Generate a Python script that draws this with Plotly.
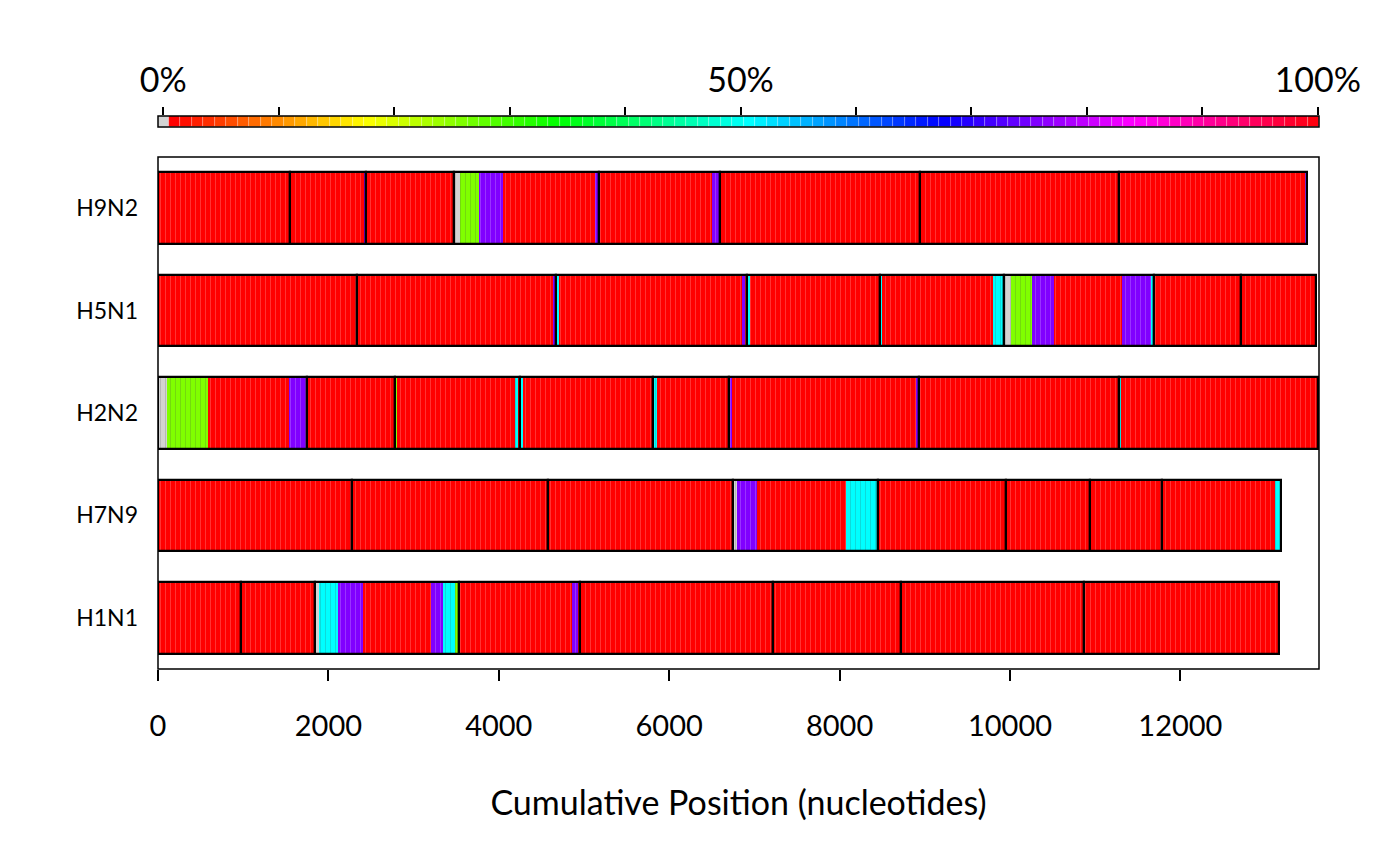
import colorsys
import plotly.graph_objects as go

# ---------------- data ----------------
strains = ["H1N1", "H7N9", "H2N2", "H5N1", "H9N2"]  # bottom -> top

# cumulative segment end positions (nucleotides)
seg_ends_H9N2 = [1548, 2447, 3475, 5181, 6595, 8943, 11278, 13490]
seg_ends_H5N1 = [2334, 4673, 6918, 8478, 9935, 11687, 12716, 13587]
seg_ends_H2N2 = [1748, 2780, 4246, 5813, 6703, 8934, 11280, 13613]
seg_ends_H7N9 = [2276, 4575, 6745, 8450, 9959, 10940, 11782, 13180]
seg_ends_H1N1 = [970, 1845, 3533, 4948, 7224, 8718, 10873, 13156]

# baseline percent for all windows not listed below
base_pct = 100

# windows that differ from baseline: (start, end, percent); None = no data
blocks_H9N2 = [(1548, 1562, 75), (2428, 2447, 75), (3484, 3542, None), (3542, 3765, 25),
               (3765, 4047, 75), (5130, 5170, 75), (6506, 6590, 75), (13466, 13490, 75)]
blocks_H5N1 = [(4640, 4668, 75), (4680, 4705, 50), (6860, 6895, 75), (6918, 6945, 50),
               (8478, 8495, 50), (9806, 9924, 50), (9947, 10011, None), (10011, 10261, 25),
               (10261, 10514, 75), (11313, 11660, 75), (11660, 11687, 50)]
blocks_H2N2 = [(0, 107, None), (107, 588, 25), (1532, 1736, 75), (2792, 2811, 25),
               (4193, 4229, 50), (4258, 4282, 50), (5822, 5853, 50), (6709, 6733, 75),
               (8895, 8929, 75), (11280, 11303, 50)]
blocks_H7N9 = [(6757, 6792, None), (6792, 7031, 75), (8080, 8440, 50), (13107, 13180, 50)]
blocks_H1N1 = [(1845, 1886, None), (1886, 2110, 50), (2110, 2407, 75), (3206, 3344, 75),
               (3344, 3489, 50), (3489, 3525, 25), (4856, 4934, 75)]

x_ticks = [0, 2000, 4000, 6000, 8000, 10000, 12000]
legend_ticks = [0, 10, 20, 30, 40, 50, 60, 70, 80, 90, 100]
legend_labels = ["0%", "", "", "", "", "50%", "", "", "", "", "100%"]
n_legend_cells = 100

seg_ends = {"H9N2": seg_ends_H9N2, "H5N1": seg_ends_H5N1, "H2N2": seg_ends_H2N2,
            "H7N9": seg_ends_H7N9, "H1N1": seg_ends_H1N1}
blocks = {"H9N2": blocks_H9N2, "H5N1": blocks_H5N1, "H2N2": blocks_H2N2,
          "H7N9": blocks_H7N9, "H1N1": blocks_H1N1}

NA_COLOR = "#D3D3D3"


def pct_color(p):
    if p is None:
        return NA_COLOR
    h = (p / 100.0) % 1.0 if p < 100 else 0.0
    r, g, b = colorsys.hsv_to_rgb(h, 1, 1)
    return "#%02X%02X%02X" % (round(r * 255), round(g * 255), round(b * 255))


FONT = "Lato"
STRIPES = dict(shape="|", fgcolor="white", fgopacity=0.22, size=5, solidity=0.18)
fig = go.Figure()

# baseline segment fills
sy, sb, sx = [], [], []
for i, s in enumerate(strains):
    prev = 0
    for e in seg_ends[s]:
        sy.append(i + 1); sb.append(prev); sx.append(e - prev)
        prev = e
fig.add_trace(go.Bar(orientation="h", y=sy, base=sb, x=sx, width=0.7,
                     marker=dict(color=pct_color(base_pct), line=dict(width=0),
                                 pattern=STRIPES),
                     hoverinfo="skip", showlegend=False))

# differing windows
by, bb, bx, bc = [], [], [], []
for i, s in enumerate(strains):
    for (a, e, p) in blocks[s]:
        by.append(i + 1); bb.append(a); bx.append(e - a); bc.append(pct_color(p))
fig.add_trace(go.Bar(orientation="h", y=by, base=bb, x=bx, width=0.7,
                     marker=dict(color=bc, line=dict(width=0), pattern=STRIPES),
                     hoverinfo="skip", showlegend=False))

# segment outlines
fig.add_trace(go.Bar(orientation="h", y=sy, base=sb, x=sx, width=0.7,
                     marker=dict(color="rgba(0,0,0,0)", line=dict(width=2.2, color="black")),
                     hoverinfo="skip", showlegend=False))

# colour legend bar (top)
lo, hi = -0.45, 100.1
cell_w = (hi - 0.5) / n_legend_cells
lx = [(lo + 0.5) / 2] + [0.5 + cell_w * (k + 0.5) for k in range(n_legend_cells)]
lw = [0.5 - lo] + [cell_w] * n_legend_cells
lc = [NA_COLOR] + [pct_color(100.0 * k / n_legend_cells) for k in range(n_legend_cells)]
fig.add_trace(go.Bar(x=lx, y=[1] * len(lx), width=lw, base=0,
                     marker=dict(color=lc, line=dict(width=0.6, color="rgba(255,255,255,0.35)")),
                     xaxis="x2", yaxis="y2", hoverinfo="skip", showlegend=False))

fig.update_layout(
    width=1400, height=866,
    margin=dict(l=158, r=81, t=40, b=40, autoexpand=False),
    plot_bgcolor="white", paper_bgcolor="white",
    barmode="overlay", bargap=0,
    font=dict(family=FONT, color="black"),
    xaxis=dict(range=[0, 13627], domain=[0, 1], tickvals=x_ticks,
               ticktext=[str(v) for v in x_ticks], ticks="outside", ticklen=11,
               tickwidth=1.5, tickcolor="black", showgrid=False, zeroline=False,
               showline=False, tickfont=dict(size=29, family=FONT),
               ticklabelstandoff=20, anchor="y",
               title=dict(text="Cumulative Position (nucleotides)",
                          font=dict(size=34, family=FONT), standoff=50)),
    yaxis=dict(range=[0.5, 5.5], domain=[0.19975, 0.85115], tickvals=[1, 2, 3, 4, 5],
               ticktext=strains, ticks="", showgrid=False, zeroline=False,
               showline=False, tickfont=dict(size=23, family=FONT),
               ticklabelstandoff=19),
    xaxis2=dict(range=[lo, hi], domain=[0, 1], anchor="y2", side="top",
                tickvals=legend_ticks, ticktext=legend_labels, ticks="outside",
                ticklen=8, tickwidth=1.5, tickcolor="black", showgrid=False,
                zeroline=False, showline=False, tickfont=dict(size=34, family=FONT),
                ticklabelstandoff=1),
    yaxis2=dict(range=[0, 1], domain=[0.8893, 0.9033], anchor="x2", visible=False),
    shapes=[
        dict(type="rect", xref="x domain", yref="y domain", x0=0, x1=1, y0=0, y1=1,
             line=dict(color="black", width=1.5), fillcolor="rgba(0,0,0,0)", layer="above"),
        dict(type="rect", xref="x2 domain", yref="y2 domain", x0=0, x1=1, y0=0, y1=1,
             line=dict(color="black", width=1.5), fillcolor="rgba(0,0,0,0)", layer="above"),
    ],
)

fig.write_html("out.html")
